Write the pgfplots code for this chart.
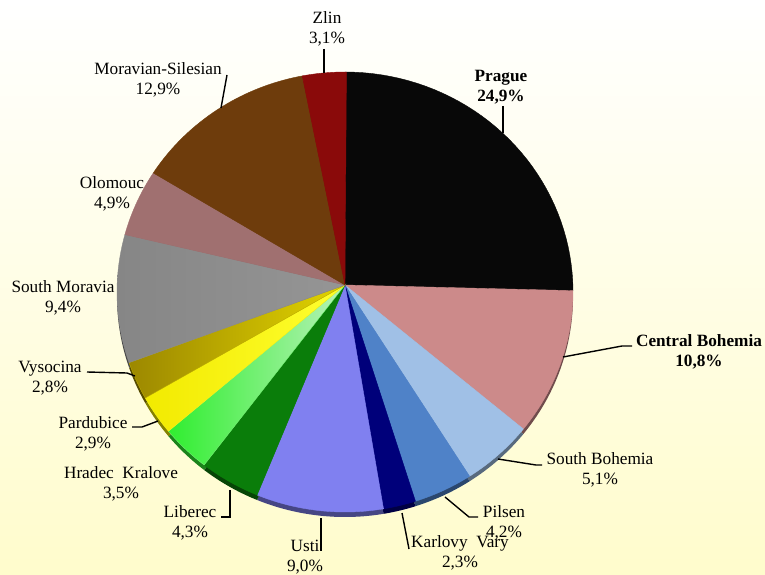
\documentclass[border=0pt]{standalone}
\usepackage{pgfplots}
\pgfplotsset{compat=1.18}
\usepackage{pgfplotstable}
\usepackage{fontspec}
\setmainfont{Liberation Serif}

% slice colours (left / right of a soft horizontal shading)
\definecolor{cPr}{HTML}{080808}
\definecolor{cCB}{HTML}{CC8A8A}
\definecolor{cSB}{HTML}{A0C0E6}
\definecolor{cPi}{HTML}{4F82C8}
\definecolor{cKV}{HTML}{00007A}
\definecolor{cUs}{HTML}{8080F0}
\definecolor{cLi}{HTML}{0A7D0A}
\definecolor{cHKa}{HTML}{30EE30}
\definecolor{cHKb}{HTML}{B8F2B8}
\definecolor{cPaa}{HTML}{F2EA00}
\definecolor{cPab}{HTML}{FFFF30}
\definecolor{cVya}{HTML}{9C8800}
\definecolor{cVyb}{HTML}{E2D400}
\definecolor{cSMa}{HTML}{868686}
\definecolor{cSMb}{HTML}{959595}
\definecolor{cOl}{HTML}{A07070}
\definecolor{cMS}{HTML}{6E3C0C}
\definecolor{cZl}{HTML}{8A0A0A}
\definecolor{bgY}{HTML}{FFFCCC}

\tikzset{lab/.style={font=\fontsize{17.3}{20.5}\selectfont, align=center, text=black, inner sep=0pt}}

% share of each region, clockwise from the top
\pgfplotstableread{
value ca cb
24.9 cPr cPr
10.8 cCB cCB
5.1 cSB cSB
4.2 cPi cPi
2.3 cKV cKV
9.0 cUs cUs
4.3 cLi cLi
3.5 cHKa cHKb
2.9 cPaa cPab
2.8 cVya cVyb
9.4 cSMa cSMb
4.9 cOl cOl
12.9 cMS cMS
3.1 cZl cZl
}\piedata

\begin{document}
\begin{tikzpicture}
\begin{axis}[
  scale only axis, width=765bp, height=575bp,
  xmin=0, xmax=765, ymin=0, ymax=575, y dir=reverse,
  hide axis, clip=false,
]
\shade[top color=white, middle color=white!45!bgY, bottom color=bgY] (0,0) rectangle (765,575);

% dark rim under the pie
\def\cum{0}
\pgfplotsforeachungrouped \i in {0,...,13}{%
  \pgfplotstablegetelem{\i}{value}\of\piedata \let\val\pgfplotsretval
  \pgfplotstablegetelem{\i}{ca}\of\piedata \let\ca\pgfplotsretval
  \pgfmathsetmacro\a{90-3.6*\cum}%
  \pgfmathsetmacro\cum{\cum+\val}%
  \pgfmathsetmacro\b{90-3.6*\cum}%
  \edef\cmd{\noexpand\fill[\ca!55!black] (345,291) -- plot[domain=\a:\b, samples=40, variable=\noexpand\t] ({345+228*cos(\noexpand\t)},{297-220*sin(\noexpand\t)}) -- cycle;}%
  \cmd
}
% slices
\def\cum{0}
\pgfplotsforeachungrouped \i in {0,...,13}{%
  \pgfplotstablegetelem{\i}{value}\of\piedata \let\val\pgfplotsretval
  \pgfplotstablegetelem{\i}{ca}\of\piedata \let\ca\pgfplotsretval
  \pgfplotstablegetelem{\i}{cb}\of\piedata \let\cb\pgfplotsretval
  \pgfmathsetmacro\a{90-3.6*\cum}%
  \pgfmathsetmacro\cum{\cum+\val}%
  \pgfmathsetmacro\b{90-3.6*\cum}%
  \edef\cmd{\noexpand\shadedraw[left color=\ca, right color=\cb, draw=\ca!50!\cb, line width=0.4bp] (345,285) -- plot[domain=\a:\b, samples=40, variable=\noexpand\t] ({345+228*cos(\noexpand\t)},{292-220*sin(\noexpand\t)}) -- cycle;}%
  \cmd
}

% leader lines
\draw[line width=1.4bp] (324,49) -- (324,73);
\draw[line width=1.4bp] (227,75) -- (221,108);
\draw[line width=1.4bp] (503,106) -- (503,133);
\draw[line width=1.4bp] (563,357) -- (622,346) -- (632,346);
\draw[line width=1.4bp] (498,459) -- (536,465) -- (542,465);
\draw[line width=1.4bp] (445,497) -- (469,517) -- (478,517);
\draw[line width=1.4bp] (402,513) -- (409,549);
\draw[line width=1.4bp] (321,518) -- (321,551);
\draw[line width=1.4bp] (230,490) -- (230,517) -- (221,517);
\draw[line width=1.4bp] (158,421) -- (142,427) -- (132,427);
\draw[line width=1.4bp] (135,376) -- (127,373) -- (87,372);

% labels
\node[lab] at (327,29) {Zlin\\3,1\%};
\node[lab] at (158,80) {Moravian-Silesian\\12,9\%};
\node[lab] at (501,87) {\textbf{Prague}\\\textbf{24,9\%}};
\node[lab] at (699,352) {\textbf{Central Bohemia}\\\textbf{10,8\%}};
\node[lab] at (600,470) {South Bohemia\\5,1\%};
\node[lab] at (504,523) {Pilsen\\4,2\%};
\node[lab] at (460,553) {Karlovy\ \ Vary\\2,3\%};
\node[lab] at (305,557) {Usti\\9,0\%};
\node[lab] at (190,523) {Liberec\\4,3\%};
\node[lab] at (121,484) {Hradec\ \ Kralove\\3,5\%};
\node[lab] at (93,434) {Pardubice\\2,9\%};
\node[lab] at (50,378) {Vysocina\\2,8\%};
\node[lab] at (63,298) {South Moravia\\9,4\%};
\node[lab] at (112,194) {Olomouc\\4,9\%};
\end{axis}
\pgfresetboundingbox
\path (0,0) rectangle (765bp,575bp);
\end{tikzpicture}
\end{document}
